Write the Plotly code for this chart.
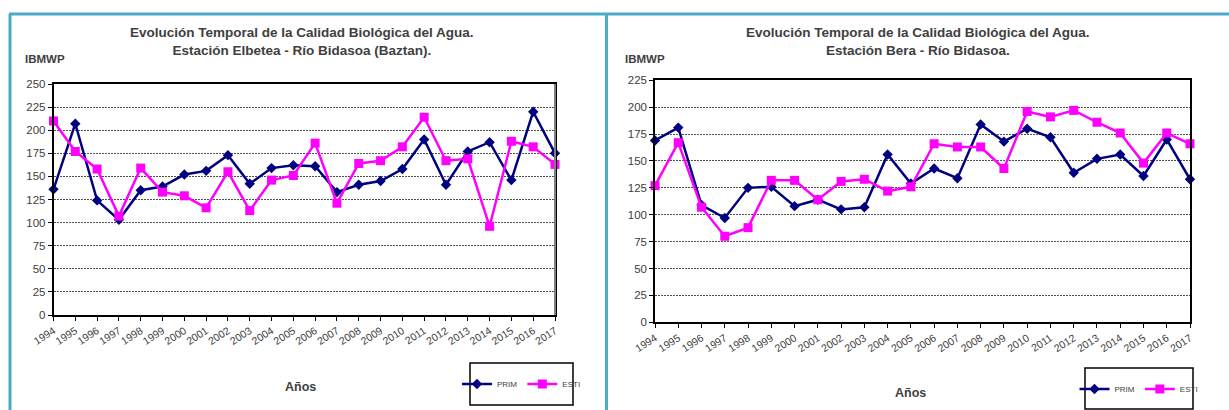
import plotly.graph_objects as go

W, H = 1229, 410

years = [1994, 1995, 1996, 1997, 1998, 1999, 2000, 2001, 2002, 2003, 2004, 2005,
         2006, 2007, 2008, 2009, 2010, 2011, 2012, 2013, 2014, 2015, 2016, 2017]

prim_elbetea = [136, 207, 124, 103, 135, 139, 152, 156, 173, 142, 159, 162,
                161, 133, 141, 145, 158, 190, 141, 177, 187, 146, 220, 175]
esti_elbetea = [210, 177, 158, 107, 159, 133, 129, 116, 155, 113, 146, 151,
                186, 121, 164, 167, 182, 214, 167, 169, 96, 188, 182, 163]

prim_bera = [169, 181, 109, 97, 125, 126, 108, 114, 105, 107, 156, 129,
             143, 134, 184, 168, 180, 172, 139, 152, 156, 136, 170, 133]
esti_bera = [127, 167, 107, 80, 88, 132, 132, 114, 131, 133, 122, 126,
             166, 163, 163, 143, 196, 191, 197, 186, 176, 148, 176, 166]

titles = ["Evolución Temporal de la Calidad Biológica del Agua.<br>Estación Elbetea - Río Bidasoa (Baztan).",
          "Evolución Temporal de la Calidad Biológica del Agua.<br>Estación Bera - Río Bidasoa."]

NAVY = "#000080"
MAGENTA = "#FF00FF"
TEAL = "#4BACC6"
TXT = "#404040"
FONT = "Liberation Sans, Arial, sans-serif"


def px(x):
    return x / W


def py(y):
    return 1 - y / H


def xaxisLayout(x0, x1, anchor):
    return dict(
        domain=[px(x0), px(x1)], anchor=anchor,
        range=[years[0], years[-1]],
        tickvals=years, ticktext=[str(v) for v in years],
        tickangle=-33, tickfont=dict(size=10.5, color=TXT, family=FONT),
        ticks="outside", ticklen=4, tickcolor="black",
        showline=True, linecolor="black", linewidth=1.5, mirror=True,
        showgrid=False, zeroline=False, fixedrange=True, automargin=False,
    )


def yaxisLayout(y0, y1, top, anchor):
    return dict(
        domain=[py(y1), py(y0)], anchor=anchor,
        range=[0, top], dtick=25,
        tickfont=dict(size=11.5, color=TXT, family=FONT),
        ticks="outside", ticklen=4, tickcolor="black",
        showline=True, linecolor="black", linewidth=1.5, mirror=True,
        showgrid=True, gridcolor="#505050", gridwidth=1, griddash="2px,1px",
        zeroline=False, fixedrange=True, automargin=False,
    )


def addSeries(fig, x, y, name, color, symbol, size, xa, ya, legend):
    fig.add_trace(go.Scatter(
        x=x, y=y, name=name, mode="lines+markers",
        line=dict(color=color, width=2.5),
        marker=dict(color=color, symbol=symbol, size=size),
        xaxis=xa, yaxis=ya, legend=legend, cliponaxis=False,
    ))


fig = go.Figure()
addSeries(fig, years, prim_elbetea, "PRIM", NAVY, "diamond", 8, "x", "y", "legend")
addSeries(fig, years, esti_elbetea, "ESTI", MAGENTA, "square", 9, "x", "y", "legend")
addSeries(fig, years, prim_bera, "PRIM", NAVY, "diamond", 8, "x2", "y2", "legend2")
addSeries(fig, years, esti_bera, "ESTI", MAGENTA, "square", 9, "x2", "y2", "legend2")

legendStyle = dict(orientation="h", xanchor="center", yanchor="middle",
                   bgcolor="rgba(0,0,0,0)", borderwidth=0,
                   font=dict(size=8, color=TXT, family=FONT),
                   itemwidth=30, tracegroupgap=0)

annotations = []
for cx, title in [(302, titles[0]), (918, titles[1])]:
    annotations.append(dict(text="<b>" + title + "</b>", x=px(cx), y=py(42),
                            xref="paper", yref="paper", showarrow=False,
                            xanchor="center", yanchor="middle",
                            font=dict(size=13.5, color=TXT, family=FONT)))
for cx in [45, 645]:
    annotations.append(dict(text="<b>IBMWP</b>", x=px(cx), y=py(59),
                            xref="paper", yref="paper", showarrow=False,
                            xanchor="center", yanchor="middle",
                            font=dict(size=11.5, color=TXT, family=FONT)))
for cx, cy in [(300, 387), (910, 393)]:
    annotations.append(dict(text="<b>Años</b>", x=px(cx), y=py(cy),
                            xref="paper", yref="paper", showarrow=False,
                            xanchor="center", yanchor="middle",
                            font=dict(size=12.5, color=TXT, family=FONT)))

shapes = [
    # teal panel frames
    dict(type="line", xref="paper", yref="paper", x0=px(9), x1=1, y0=py(14), y1=py(14),
         line=dict(color=TEAL, width=3)),
    dict(type="line", xref="paper", yref="paper", x0=px(10), x1=px(10), y0=py(14), y1=0,
         line=dict(color=TEAL, width=3)),
    dict(type="line", xref="paper", yref="paper", x0=px(606.5), x1=px(606.5), y0=py(14), y1=0,
         line=dict(color=TEAL, width=3)),
    # legend boxes
    dict(type="rect", xref="paper", yref="paper", x0=px(470), x1=px(573), y0=py(405), y1=py(363),
         line=dict(color="black", width=1.5)),
    dict(type="rect", xref="paper", yref="paper", x0=px(1085), x1=px(1193), y0=py(409), y1=py(368),
         line=dict(color="black", width=1.5)),
    # grey right edge of the left plot
    dict(type="line", xref="x domain", yref="y domain", x0=1, x1=1, y0=0, y1=1,
         line=dict(color="#808080", width=2)),
]

fig.update_layout(
    width=W, height=H,
    margin=dict(l=0, r=0, t=0, b=0, autoexpand=False),
    paper_bgcolor="white", plot_bgcolor="white",
    font_family=FONT,
    showlegend=True,
    xaxis=xaxisLayout(53.5, 555, "y"),
    yaxis=yaxisLayout(84, 315, 250, "x"),
    xaxis2=xaxisLayout(655, 1190, "y2"),
    yaxis2=yaxisLayout(80.3, 322.3, 225, "x2"),
    legend=dict(legendStyle, x=px(521.5), y=py(384)),
    legend2=dict(legendStyle, x=px(1139), y=py(389)),
    annotations=annotations,
    shapes=shapes,
)

# the page body has a default 8px margin; drop it so the figure sits at 0,0
fig.write_html("out.html", config={"displayModeBar": False},
               post_script="document.body.style.margin='0px';")
